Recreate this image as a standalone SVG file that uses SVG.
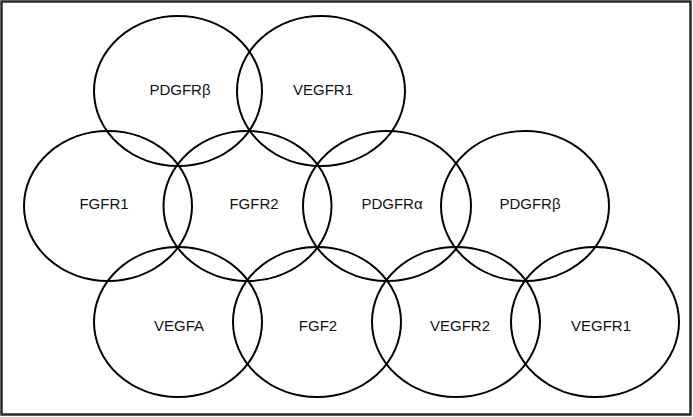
<svg xmlns="http://www.w3.org/2000/svg" width="693" height="417" viewBox="0 0 693 417">
<style>
.c{fill:none;stroke:#000;stroke-width:2}
.t{font-family:"Liberation Sans",Arial,sans-serif;font-size:15px;fill:#111;text-anchor:middle}
</style>
<rect x="0" y="0" width="693" height="417" fill="#fff"/>
<rect x="1.5" y="1.5" width="689" height="413" fill="none" stroke="#2a2a2a" stroke-width="2.5"/>
<g id="n1"><ellipse class="c" cx="178" cy="91" rx="84" ry="75"/><text class="t" x="180" y="95">PDGFRβ</text></g>
<g id="n2"><ellipse class="c" cx="321" cy="91" rx="84" ry="75"/><text class="t" x="323" y="95">VEGFR1</text></g>
<g id="n3"><ellipse class="c" cx="108" cy="206" rx="84" ry="75"/><text class="t" x="104" y="209">FGFR1</text></g>
<g id="n4"><ellipse class="c" cx="247.5" cy="206" rx="84" ry="75"/><text class="t" x="254" y="209">FGFR2</text></g>
<g id="n5"><ellipse class="c" cx="387" cy="206" rx="84" ry="75"/><text class="t" x="392" y="209">PDGFRα</text></g>
<g id="n6"><ellipse class="c" cx="525" cy="206" rx="84" ry="75"/><text class="t" x="530" y="209">PDGFRβ</text></g>
<g id="n7"><ellipse class="c" cx="178" cy="322" rx="84" ry="75"/><text class="t" x="179" y="331">VEGFA</text></g>
<g id="n8"><ellipse class="c" cx="317" cy="322" rx="84" ry="75"/><text class="t" x="318" y="331">FGF2</text></g>
<g id="n9"><ellipse class="c" cx="456" cy="322" rx="84" ry="75"/><text class="t" x="460" y="331">VEGFR2</text></g>
<g id="n10"><ellipse class="c" cx="595" cy="322" rx="84" ry="75"/><text class="t" x="601" y="331">VEGFR1</text></g>
<g id="connectors"></g>
</svg>
